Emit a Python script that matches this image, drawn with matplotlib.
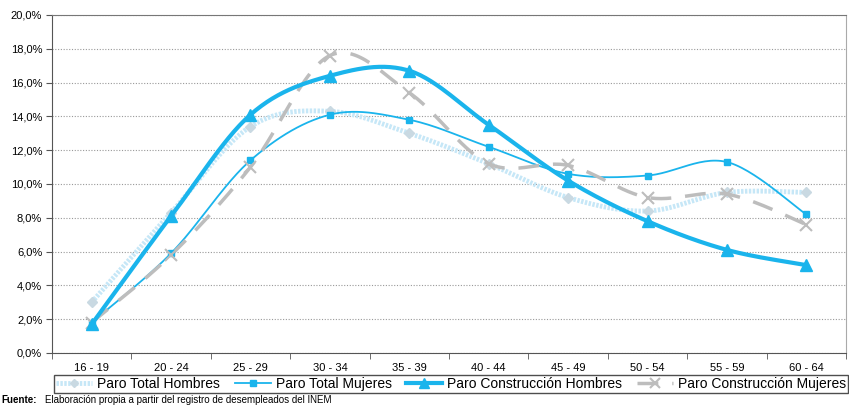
import numpy as np
import matplotlib.pyplot as plt
from matplotlib.lines import Line2D

plt.rcParams['font.family'] = ['Liberation Sans', 'DejaVu Sans']

categorias = ["16 - 19", "20 - 24", "25 - 29", "30 - 34", "35 - 39",
              "40 - 44", "45 - 49", "50 - 54", "55 - 59", "60 - 64"]
total_hombres = [3.0, 8.3, 13.4, 14.3, 13.0, 11.2, 9.2, 8.4, 9.5, 9.5]
total_mujeres = [1.8, 5.9, 11.4, 14.1, 13.8, 12.2, 10.6, 10.5, 11.3, 8.2]
constr_hombres = [1.7, 8.1, 14.1, 16.4, 16.7, 13.5, 10.2, 7.8, 6.1, 5.2]
constr_mujeres = [1.8, 5.8, 11.0, 17.6, 15.4, 11.2, 11.1, 9.2, 9.4, 7.6]
y_ticks = [0, 2, 4, 6, 8, 10, 12, 14, 16, 18, 20]

azul = '#1AB4EC'
azul_claro = '#C6E7F7'
gris = '#BDBDBD'


def suavizar(x, y, n=30):
    # curva tipo Excel: Bezier cubica entre puntos consecutivos
    x = np.asarray(x, float)
    y = np.asarray(y, float)
    p = np.column_stack([x, y])
    pts = np.vstack([p[0], p, p[-1]])
    t = np.linspace(0, 1, n)[:, None]
    out = []
    for i in range(len(p) - 1):
        p0, p1, p2, p3 = pts[i], pts[i + 1], pts[i + 2], pts[i + 3]
        c1 = p1 + (p2 - p0) / 6
        c2 = p2 - (p3 - p1) / 6
        seg = ((1 - t) ** 3) * p1 + 3 * ((1 - t) ** 2) * t * c1 + 3 * (1 - t) * t ** 2 * c2 + t ** 3 * p2
        out.append(seg if i == 0 else seg[1:])
    out = np.vstack(out)
    return out[:, 0], out[:, 1]


fig = plt.figure(figsize=(8.49, 4.05), dpi=100)
ax = fig.add_axes([0.0612, 0.1284, 0.9353, 0.8346])

x = np.arange(len(categorias))

xs, ys = suavizar(x, total_hombres)
ax.plot(xs, ys, color=azul_claro, lw=3.5, ls=(0, (0.5, 0.3)), zorder=2)
ax.plot(x, total_hombres, ls='none', marker='D', ms=5, color='#C9D9E2', zorder=3)

xs, ys = suavizar(x, total_mujeres)
ax.plot(xs, ys, color=azul, lw=1.3, zorder=3)
ax.plot(x, total_mujeres, ls='none', marker='s', ms=5, color=azul, zorder=4)

xs, ys = suavizar(x, constr_mujeres)
ax.plot(xs, ys, color=gris, lw=2.5, ls=(0, (6, 4)), zorder=3)
ax.plot(x, constr_mujeres, ls='none', marker='x', ms=8, mew=1.5, color=gris, zorder=4)

xs, ys = suavizar(x, constr_hombres)
ax.plot(xs, ys, color=azul, lw=3, zorder=5)
ax.plot(x, constr_hombres, ls='none', marker='^', ms=9, color=azul, zorder=6)

ax.set_xlim(-0.5, len(categorias) - 0.5)
ax.set_ylim(0, 20)
ax.set_yticks(y_ticks)
ax.set_yticklabels([f"{v:.1f}%".replace('.', ',') for v in y_ticks], fontsize=8)
ax.set_xticks(x)
ax.set_xticklabels(categorias, fontsize=8)
ax.set_xticks(np.arange(len(categorias) + 1) - 0.5, minor=True)
ax.tick_params(axis='x', which='major', length=0, pad=7)
ax.tick_params(axis='x', which='minor', length=4, color='#555555')
ax.tick_params(axis='y', length=4, color='#555555', pad=3)
ax.grid(axis='y', color='#999999', ls=(0, (1, 1.5)), lw=0.8)
ax.spines['top'].set_color('#777777')
ax.spines['right'].set_color('#aaaaaa')
ax.spines['left'].set_color('#555555')
ax.spines['bottom'].set_color('#555555')

handles = [
    Line2D([], [], color=azul_claro, lw=3.5, ls=(0, (0.5, 0.3)), marker='D', ms=4, mfc='#C9D9E2', mec='#C9D9E2'),
    Line2D([], [], color=azul, lw=1.3, marker='s', ms=4),
    Line2D([], [], color=azul, lw=3, marker='^', ms=7),
    Line2D([], [], color=gris, lw=2.5, ls=(0, (6, 4)), marker='x', ms=7, mew=1.5),
]
labels = ["Paro Total Hombres", "Paro Total Mujeres",
          "Paro Construcción Hombres", "Paro Construcción Mujeres"]
leg = fig.legend(handles, labels, loc='upper left',
                 bbox_to_anchor=(54 / 849, 1 - 375 / 405, 794 / 849, 0.0),
                 mode='expand', ncol=4, fontsize=10, frameon=True, fancybox=False,
                 handlelength=2.6, handletextpad=0.35, borderpad=0.15, columnspacing=0.5,
                 borderaxespad=0)
leg.get_frame().set_edgecolor('#222222')
leg.get_frame().set_linewidth(1)

fig.text(0.002, 0.006, "Fuente:", fontsize=7, fontweight='bold', va='baseline')
fig.text(0.053, 0.006, "Elaboración propia a partir del registro de desempleados del INEM",
         fontsize=7, va='baseline')

fig.savefig('out.png', dpi=100)
